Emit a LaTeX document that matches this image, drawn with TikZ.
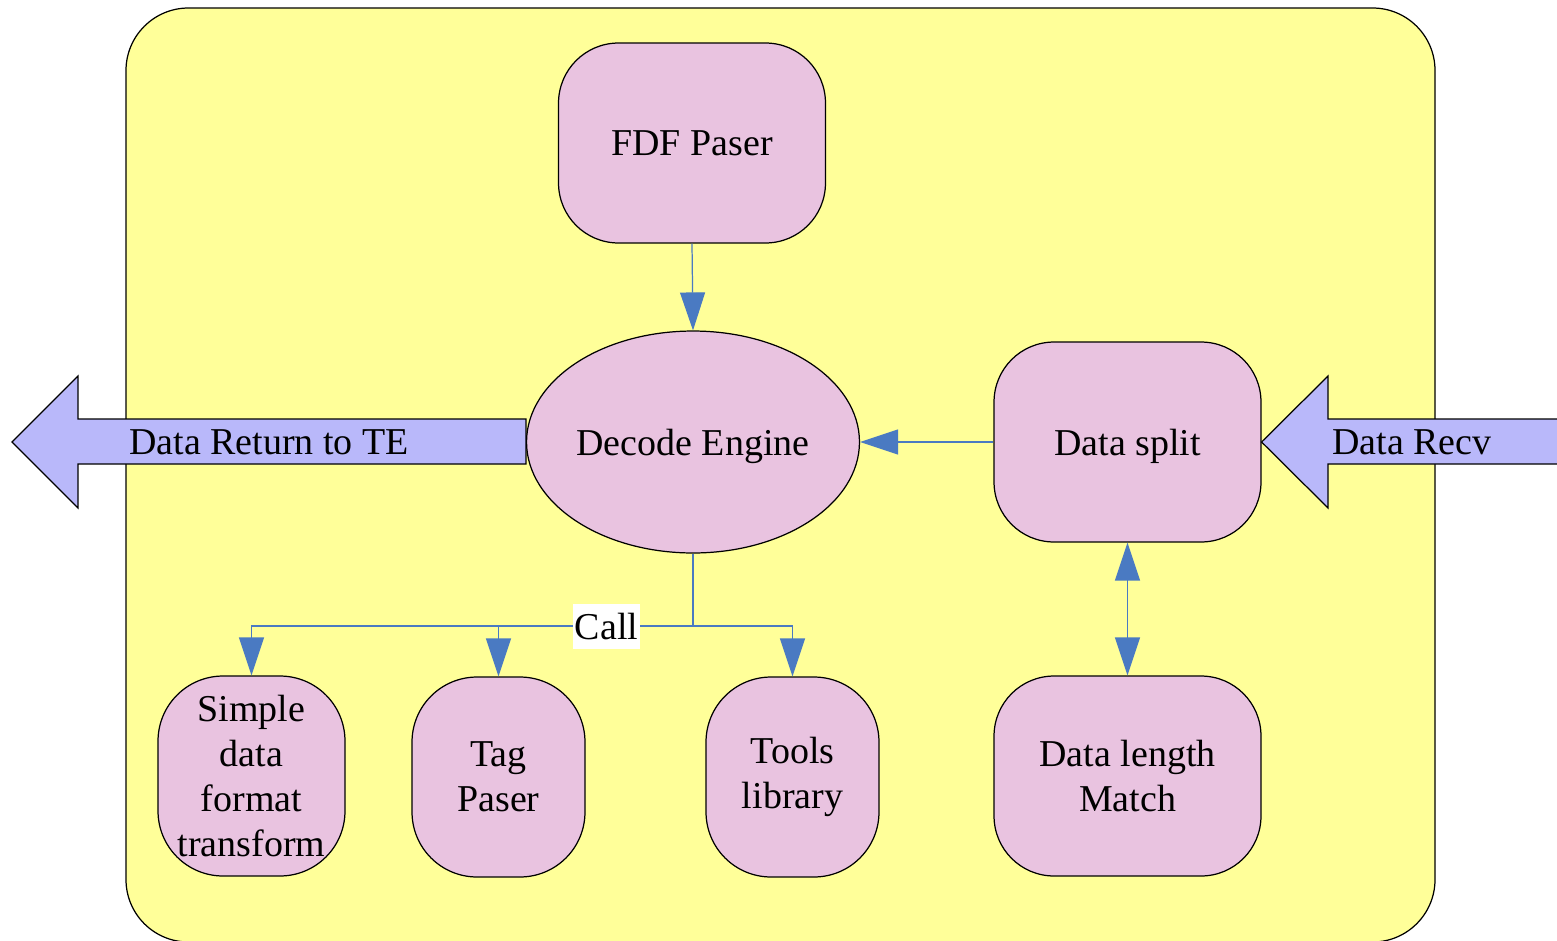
\documentclass[tikz,border=0pt]{standalone}
\usepackage{fontspec}
\setmainfont{Liberation Serif}
\usetikzlibrary{arrows.meta,shapes.geometric}
\definecolor{panel}{HTML}{FFFF99}
\definecolor{boxpink}{HTML}{E9C3E0}
\definecolor{bigarrow}{HTML}{B9B8FA}
\definecolor{link}{HTML}{4A7AC2}
\tikzset{
  labelfont/.style={font=\fontsize{21.6}{25.5}\selectfont},
  block/.style={draw=black, fill=boxpink, line width=0.7pt, labelfont,
    align=center, inner sep=0pt, minimum height=4cm},
  wideblock/.style={block, minimum width=5.34cm, rounded corners=1.2cm},
  narrowblock/.style={block, rounded corners=1.3cm},
  engine/.style={ellipse, draw=black, fill=boxpink, line width=0.7pt, labelfont,
    inner sep=0pt, minimum width=6.66cm, minimum height=4.44cm},
  bigarrowshape/.style={fill=bigarrow, draw=black, line width=0.7pt, line join=miter},
  link/.style={draw=link, line width=0.7pt,
    -{Triangle[width=0.5cm, length=0.76cm]}},
  linkboth/.style={draw=link, line width=0.7pt,
    {Triangle[width=0.5cm, length=0.76cm]}-{Triangle[width=0.5cm, length=0.76cm]}},
  plainlink/.style={draw=link, line width=0.7pt},
}
\begin{document}
\begin{tikzpicture}[x=0.02cm, y=-0.02cm]
  \useasboundingbox (0,0) rectangle (1557,940);
  \clip (0,0) rectangle (1557,940);

  % module frame
  \draw[fill=panel, draw=black, line width=0.7pt, rounded corners=1.25cm]
    (126,8) rectangle (1435,942);

  % components
  \node[wideblock] (fdf) at (692,143) {FDF Paser};
  \node[engine, text depth=0pt] (dec) at (693,442) {Decode Engine};
  \node[wideblock, text depth=0pt] (split) at (1127.5,442) {Data split};
  \node[wideblock] (match) at (1127.5,776) {Data length\\Match};
  \node[narrowblock, minimum width=3.74cm] (simple) at (251.5,776)
    {Simple\\data\\format\\transform};
  \node[narrowblock, minimum width=3.46cm] (tag) at (498.5,777) {Tag\\Paser};
  \node[narrowblock, minimum width=3.46cm] (tools) at (792.5,777) {Tools\\library};

  % data flowing out to TE
  \draw[bigarrowshape] (dec.west |- 0,419) -- (78,419) -- (78,376) -- (12,442)
    -- (78,508) -- (78,464) -- (dec.west |- 0,464) -- cycle;
  \node[labelfont, anchor=west, inner sep=0pt] (ret) at (129,442) {Data Return to TE};

  % data flowing in
  \draw[bigarrowshape] (1600,419) -- (1328,419) -- (1328,376) -- (split.east)
    -- (1328,508) -- (1328,464) -- (1600,464);
  \node[labelfont, anchor=west, inner sep=0pt] (recv) at (1332,442) {Data Recv};

  % internal connections
  \draw[link] (fdf.south) -- (dec.north);
  \draw[link] (split.west) -- (dec.east);
  \draw[linkboth] (split.south) -- (match.north);

  \coordinate (fork) at (dec.south |- 0,626);
  \draw[plainlink] (dec.south) -- (fork);
  \draw[link] (fork) -| (simple.north);
  \draw[link] (fork) -| (tag.north);
  \draw[link] (fork) -| (tools.north);
  \node[labelfont, fill=white, inner xsep=1pt, inner ysep=0pt,
    minimum height=0.9cm] (call) at (606.5,626.5) {Call};
\end{tikzpicture}
\end{document}
